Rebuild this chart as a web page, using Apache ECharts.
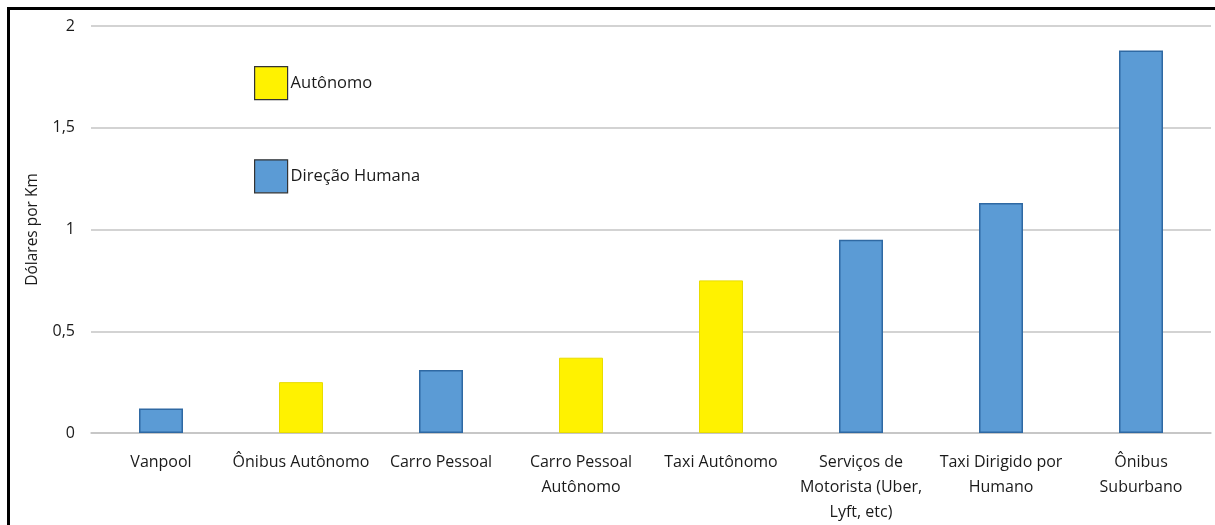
<!DOCTYPE html>
<html>
<head>
<meta charset="utf-8">
<script src="https://cdn.jsdelivr.net/npm/echarts@6/dist/echarts.min.js"></script>
<style>
  html, body { margin: 0; padding: 0; background: #fff; }
  #frame { position: absolute; left: 7px; top: 7px; width: 1215px; height: 525px; border-left: 3px solid #000; border-top: 3px solid #000; box-sizing: border-box; }
  #chart { position: absolute; left: 0; top: 0; width: 1215px; height: 525px; }
</style>
</head>
<body>
<div id="frame"></div>
<div id="chart"></div>
<script>
// categories and values
const categories = [
  "Vanpool",
  "Ônibus Autônomo",
  "Carro Pessoal",
  "Carro Pessoal\nAutônomo",
  "Taxi Autônomo",
  "Serviços de\nMotorista (Uber,\nLyft, etc)",
  "Taxi Dirigido por\nHumano",
  "Ônibus\nSuburbano"
];
const autonomo = [null, 0.25, null, 0.37, 0.75, null, null, null];
const humana = [0.12, null, 0.31, null, null, 0.95, 1.13, 1.88];

const font = "'Open Sans', 'Noto Sans', sans-serif";
const ink = "#1a1a1a";

let chart = echarts.init(document.getElementById("chart"));

chart.setOption({
  animation: false,
  textStyle: { fontFamily: font },
  grid: { left: 91, right: 4, top: 26, bottom: 92 },
  legend: {
    orient: "vertical",
    left: 254,
    top: 66,
    padding: 0,
    itemWidth: 33,
    itemHeight: 33,
    itemGap: 59,
    icon: "rect",
    // legend boxes have a dark outline in the original
    itemStyle: { borderColor: "#333", borderWidth: 1.2 },
    textStyle: { fontSize: 16.5, color: ink, fontFamily: font, padding: [0, 0, 0, -2] },
    data: ["Autônomo", "Direção Humana"]
  },
  xAxis: {
    type: "category",
    data: categories,
    axisLine: { lineStyle: { color: "#c4c4c4", width: 1.5 } },
    axisTick: { show: false },
    axisLabel: { interval: 0, margin: 17, fontSize: 16, lineHeight: 25, color: ink, fontFamily: font }
  },
  yAxis: {
    type: "value",
    min: 0,
    max: 2,
    interval: 0.5,
    name: "Dólares por Km",
    nameLocation: "middle",
    nameGap: 50,
    nameTextStyle: { fontSize: 15.5, color: ink, fontFamily: font },
    axisLine: { show: false },
    axisTick: { show: false },
    axisLabel: {
      margin: 16,
      fontSize: 16,
      color: ink,
      fontFamily: font,
      formatter: (v) => String(v).replace(".", ",")
    },
    splitLine: { lineStyle: { color: "#c4c4c4", width: 1.5 } }
  },
  series: [
    {
      name: "Autônomo",
      type: "bar",
      stack: "all",
      barWidth: 44,
      data: autonomo,
      itemStyle: { color: "#fff200", borderColor: "#e8dc00", borderWidth: 1 }
    },
    {
      name: "Direção Humana",
      type: "bar",
      stack: "all",
      barWidth: 44,
      data: humana,
      itemStyle: { color: "#5b9bd5", borderColor: "#2f69a3", borderWidth: 1.5 }
    }
  ]
});
</script>
</body>
</html>
